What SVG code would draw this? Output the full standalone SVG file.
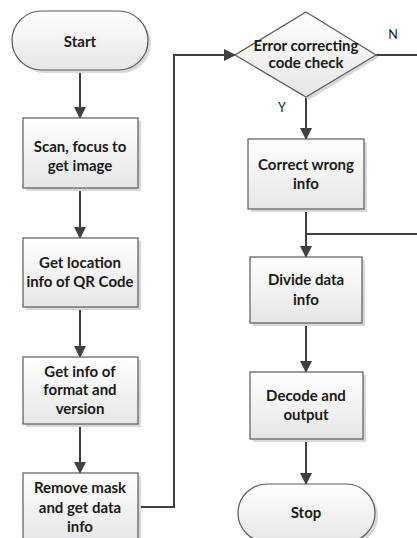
<svg xmlns="http://www.w3.org/2000/svg" width="417" height="538" viewBox="0 0 417 538">
<defs>
<linearGradient id="g" x1="0" y1="0" x2="0" y2="1">
<stop offset="0" stop-color="#ffffff"/>
<stop offset="1" stop-color="#e6e6e6"/>
</linearGradient>
<marker id="ah" markerWidth="12" markerHeight="12" refX="11" refY="6" orient="auto" markerUnits="userSpaceOnUse">
<path d="M0,0 L12,6 L0,12 Z" fill="#404040"/>
</marker>
</defs>
<style>
.shape{fill:url(#g);stroke:#5a5a5a;stroke-width:1.2}
.shadow{fill:#d9d9d9}
.t{font-family:Lato,"Liberation Sans",sans-serif;font-weight:bold;font-size:15px;fill:#1a1a1a;text-anchor:middle}
.lbl{font-family:Lato,"Liberation Sans",sans-serif;font-size:12.5px;fill:#1a1a1a;text-anchor:middle}
.c{fill:none;stroke:#404040;stroke-width:2}
</style>
<rect width="417" height="538" fill="#ffffff"/>
<g id="connectors">
<line class="c" x1="80" y1="70" x2="80" y2="118" marker-end="url(#ah)"/>
<line class="c" x1="80" y1="188" x2="80" y2="238" marker-end="url(#ah)"/>
<line class="c" x1="80" y1="307" x2="80" y2="357" marker-end="url(#ah)"/>
<line class="c" x1="80" y1="424" x2="80" y2="473" marker-end="url(#ah)"/>
<polyline class="c" points="138,507 174,507 174,55 235,55" marker-end="url(#ah)"/>
<line class="c" x1="376" y1="55" x2="417" y2="55"/>
<line class="c" x1="306" y1="97" x2="306" y2="139" marker-end="url(#ah)"/>
<line class="c" x1="306" y1="209" x2="306" y2="257" marker-end="url(#ah)"/>
<line class="c" x1="306" y1="234" x2="417" y2="234"/>
<line class="c" x1="306" y1="323" x2="306" y2="372" marker-end="url(#ah)"/>
<line class="c" x1="306" y1="439" x2="306" y2="484" marker-end="url(#ah)"/>
<text class="lbl" x="393" y="39">N</text>
<text class="lbl" x="282" y="112">Y</text>
</g>
<g id="start">
<rect class="shadow" x="15" y="14" width="136" height="59" rx="29.5"/>
<rect class="shape" x="12" y="11" width="136" height="59" rx="29.5"/>
<text class="t" x="80" y="47">Start</text>
</g>
<g id="scan">
<rect class="shadow" x="26" y="121" width="115" height="70"/>
<rect class="shape" x="23" y="118" width="115" height="70"/>
<text class="t" x="80" y="152">Scan, focus to</text>
<text class="t" x="80" y="171">get image</text>
</g>
<g id="location">
<rect class="shadow" x="26" y="241" width="115" height="69"/>
<rect class="shape" x="23" y="238" width="115" height="69"/>
<text class="t" x="80" y="268">Get location</text>
<text class="t" x="80" y="287">info of QR Code</text>
</g>
<g id="format">
<rect class="shadow" x="26" y="360" width="115" height="67"/>
<rect class="shape" x="23" y="357" width="115" height="67"/>
<text class="t" x="80" y="377">Get info of</text>
<text class="t" x="80" y="395">format and</text>
<text class="t" x="80" y="414">version</text>
</g>
<g id="mask">
<rect class="shadow" x="26" y="476" width="115" height="68"/>
<rect class="shape" x="23" y="473" width="115" height="68"/>
<text class="t" x="80" y="493">Remove mask</text>
<text class="t" x="80" y="513">and get data</text>
<text class="t" x="80" y="532">info</text>
</g>
<g id="check">
<polygon class="shadow" points="309,15 379,57 309,100 238,57"/>
<polygon class="shape" points="306,12 376,55 306,97 235,55"/>
<text class="t" x="306" y="51">Error correcting</text>
<text class="t" x="306" y="68">code check</text>
</g>
<g id="correct">
<rect class="shadow" x="251" y="142" width="116" height="70"/>
<rect class="shape" x="248" y="139" width="116" height="70"/>
<text class="t" x="306" y="170">Correct wrong</text>
<text class="t" x="306" y="189">info</text>
</g>
<g id="divide">
<rect class="shadow" x="253" y="260" width="112" height="66"/>
<rect class="shape" x="250" y="257" width="112" height="66"/>
<text class="t" x="306" y="285">Divide data</text>
<text class="t" x="306" y="305">info</text>
</g>
<g id="decode">
<rect class="shadow" x="253" y="375" width="113" height="67"/>
<rect class="shape" x="250" y="372" width="113" height="67"/>
<text class="t" x="306" y="401">Decode and</text>
<text class="t" x="306" y="420">output</text>
</g>
<g id="stop">
<rect class="shadow" x="241" y="487" width="137" height="58" rx="29"/>
<rect class="shape" x="238" y="484" width="137" height="58" rx="29"/>
<text class="t" x="306" y="518">Stop</text>
</g>
</svg>
